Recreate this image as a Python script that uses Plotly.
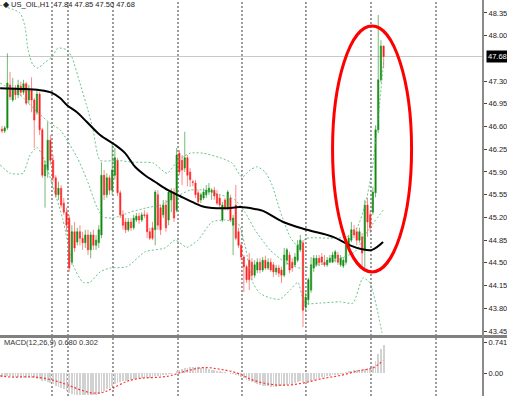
import plotly.graph_objects as go

# ---------------- data ----------------
bar_idx = list(range(143))
opens = [46.56,46.53,46.58,47.24,47.01,47.19,47.09,47.22,47.13,47.26,
         47.01,47.16,47.01,46.82,47.10,46.55,45.84,45.93,46.39,46.08,
         45.81,45.55,45.65,45.42,45.28,45.19,44.51,44.98,44.82,44.98,
         44.88,44.81,44.93,44.70,44.93,44.77,44.81,44.93,45.85,45.55,
         45.81,45.62,45.85,46.08,45.58,45.24,45.13,45.01,45.13,45.04,
         45.16,45.22,45.16,45.24,45.24,44.98,45.04,45.01,45.55,45.35,
         45.24,45.39,45.16,45.47,45.59,45.31,46.19,46.08,45.96,46.12,
         45.90,45.75,45.73,45.58,45.47,45.50,45.55,45.59,45.59,45.62,
         45.56,45.50,45.16,45.47,45.35,45.50,45.08,45.39,44.98,44.77,
         44.59,44.44,44.54,44.51,44.31,44.39,44.51,44.39,44.54,44.42,
         44.51,44.47,44.36,44.42,44.39,44.31,44.54,44.62,44.51,44.47,
         44.54,44.70,44.81,43.82,43.93,44.08,44.42,44.47,44.57,44.59,
         44.51,44.47,44.51,44.51,44.57,44.62,44.47,44.45,44.51,44.70,
         44.85,45.01,44.98,44.85,44.90,44.70,45.39,45.24,45.28,45.58,
         46.55,47.32,47.84]
highs = [46.61,46.61,47.73,47.44,47.35,47.24,47.32,47.29,47.32,47.29,
         47.24,47.36,47.04,47.16,47.13,46.58,46.08,46.67,46.47,46.16,
         45.85,45.75,45.70,45.50,45.35,45.24,45.08,45.13,45.04,45.08,
         44.98,45.01,45.01,44.98,45.01,44.93,45.08,46.05,45.93,45.88,
         45.85,46.35,46.27,46.12,45.62,45.31,45.19,45.19,45.19,45.24,
         45.27,45.27,45.28,45.31,45.28,45.04,45.13,45.62,45.62,45.39,
         45.47,45.47,45.62,45.65,45.65,46.27,46.24,46.16,46.52,46.16,
         45.96,45.78,45.78,45.62,45.58,45.65,45.70,45.73,45.65,45.67,
         45.62,45.55,45.44,45.50,45.62,45.55,45.24,45.70,45.04,44.81,
         44.62,44.47,44.65,44.57,44.54,44.57,44.57,44.59,44.61,44.57,
         44.57,44.51,44.47,44.47,44.44,44.73,44.73,44.67,44.57,44.65,
         44.85,44.93,44.85,44.04,44.27,44.59,44.62,44.62,44.62,44.65,
         44.62,44.59,44.62,44.67,44.70,44.67,44.62,44.59,44.85,44.93,
         45.13,45.08,45.04,45.04,44.96,45.47,45.50,45.31,45.67,46.62,
         48.32,47.93,47.85]
lows = [46.50,46.50,46.55,47.01,46.98,47.01,47.04,47.07,47.09,46.93,
        46.95,46.82,46.27,46.78,46.47,45.81,45.35,45.81,46.01,45.75,
        45.50,45.47,45.35,45.24,44.98,44.36,44.47,44.67,44.77,44.77,
        44.70,44.73,44.62,44.57,44.70,44.70,44.73,44.88,45.47,45.50,
        45.55,45.55,45.78,45.53,45.19,45.01,44.96,44.98,44.99,45.01,
        45.13,45.10,45.13,45.19,44.88,44.85,44.85,44.77,45.01,44.93,
        45.19,44.98,45.08,45.28,45.13,45.28,45.85,45.70,45.90,45.68,
        45.67,45.68,45.50,45.39,45.42,45.47,45.50,45.55,45.47,45.47,
        45.39,45.35,45.13,45.31,45.31,45.13,44.62,44.85,44.73,44.54,
        44.05,44.19,44.08,44.24,44.27,44.34,44.34,44.36,44.39,44.39,
        44.36,44.28,44.31,44.28,44.19,44.28,44.47,44.34,44.36,44.44,
        44.51,44.67,43.51,43.77,43.85,44.04,44.36,44.44,44.45,44.47,
        44.44,44.44,44.50,44.50,44.51,44.47,44.44,44.42,44.47,44.67,
        44.82,44.88,44.77,44.81,44.44,44.42,44.90,44.96,45.24,45.51,
        46.50,47.28,47.50]
closes = [46.53,46.58,47.27,47.06,47.19,47.09,47.24,47.13,47.26,46.96,
          47.16,47.01,46.70,47.10,46.55,45.85,46.01,46.39,46.08,45.81,
          45.55,45.65,45.39,45.28,45.08,44.42,44.98,44.73,44.98,44.88,
          44.81,44.93,44.70,44.93,44.77,44.85,45.01,45.85,45.55,45.81,
          45.62,45.93,46.12,45.58,45.24,45.08,45.01,45.13,45.04,45.19,
          45.22,45.16,45.24,45.23,44.98,44.88,44.88,45.59,45.08,45.01,
          45.39,45.04,45.59,45.59,45.19,46.16,45.90,45.93,46.12,45.85,
          45.78,45.74,45.55,45.44,45.55,45.59,45.62,45.65,45.62,45.53,
          45.42,45.39,45.39,45.35,45.59,45.16,45.19,44.88,44.77,44.59,
          44.44,44.24,44.24,44.31,44.47,44.51,44.39,44.54,44.42,44.51,
          44.39,44.36,44.42,44.34,44.31,44.62,44.70,44.39,44.42,44.59,
          44.77,44.85,43.77,43.97,44.24,44.47,44.57,44.57,44.50,44.51,
          44.47,44.54,44.57,44.62,44.67,44.51,44.57,44.54,44.77,44.88,
          45.01,44.93,44.85,44.98,44.65,45.39,45.13,45.04,45.59,46.55,
          47.32,47.84,47.68]

# moving average (black line), sampled
ma_x = [-0.7,6.7,14.1,18.6,21.6,24.2,27.9,31.6,36.5,42.0,45.8,49.5,53.2,56.9,
        61.8,66.2,70.7,75.5,83.0,88.6,94.1,97.1,104.6,113.5,123.2,129.5,134.0,137.7,141.8]
ma_y = [47.19,47.18,47.16,47.12,47.04,46.93,46.82,46.67,46.47,46.32,46.19,45.98,45.85,45.75,
        45.62,45.53,45.44,45.36,45.34,45.36,45.33,45.30,45.13,45.01,44.90,44.77,44.71,44.70,44.82]

# Bollinger bands (dotted green), sampled
bb_up_x = [-0.7,6.7,8.6,9.7,11.5,13.4,16.0,18.6,20.8,24.2,26.0,29.0,32.0,33.9,36.5,42.8,48.7,
           56.2,61.4,65.5,70.0,74.8,81.1,85.6,89.3,92.3,94.9,97.9,100.5,103.4,107.2,109.8,
           113.5,122.0,128.4,132.1,135.1,137.7,139.9,142.1]
bb_up_y = [48.47,48.35,48.13,47.78,47.55,47.50,47.59,47.67,47.81,47.78,47.67,47.27,46.85,46.55,
           46.08,46.08,46.05,46.04,45.88,46.08,46.19,46.19,46.12,46.04,45.82,45.93,45.98,45.90,
           45.70,45.31,44.90,44.77,44.88,44.88,44.90,45.04,45.39,45.93,46.70,47.63]
bb_mid_x = [-0.7,6.7,11.5,17.9,21.6,27.9,31.6,35.3,37.6,41.3,47.6,54.0,58.8,64.4,70.0,75.5,
            81.1,86.7,90.4,94.1,99.7,105.3,110.9,118.3,125.8,131.3,135.8,141.8]
bb_mid_y = [47.27,47.09,46.89,46.65,46.55,46.13,45.78,45.36,45.21,45.19,45.28,45.35,45.39,45.51,
            45.62,45.62,45.55,45.47,45.28,45.01,44.70,44.51,44.42,44.47,44.57,44.67,44.98,45.31]
bb_lo_x = [-0.7,3.0,7.8,10.4,13.0,15.3,19.0,22.7,26.4,30.1,32.7,36.5,40.2,46.5,53.2,60.7,64.4,
           68.8,72.9,78.1,83.0,87.8,90.4,93.4,96.0,99.7,103.4,107.2,110.1,112.7,118.3,125.8,
           130.6,134.3,136.9,141.4]
bb_lo_y = [46.01,45.88,45.88,46.16,46.28,46.13,45.67,45.16,44.47,44.20,44.20,44.36,44.42,44.44,
           44.67,44.73,44.85,44.74,44.85,45.13,45.16,45.11,44.77,44.19,44.03,43.96,43.94,44.08,
           44.20,43.88,43.88,43.90,43.88,44.27,44.19,43.42]

# MACD histogram (one per bar) and signal line
macd_hist = [-0.10,-0.10,-0.08,-0.08,-0.09,-0.09,-0.10,-0.10,-0.11,-0.11,-0.12,-0.12,-0.13,-0.14,-0.15,
             -0.18,-0.20,-0.22,-0.24,-0.27,-0.30,-0.33,-0.36,
             -0.39,-0.42,-0.48,-0.50,-0.52,-0.52,-0.52,-0.52,-0.52,-0.52,-0.52,-0.52,-0.52,-0.50,-0.45,-0.42,-0.38,-0.35,
             -0.30,-0.26,-0.24,-0.22,-0.20,-0.19,-0.17,-0.16,-0.15,-0.14,-0.13,-0.12,-0.11,-0.11,-0.11,-0.10,
             -0.08,-0.07,-0.06,-0.05,-0.04,-0.02,-0.01,0.00,
             0.04,0.07,0.09,0.11,0.13,0.14,0.15,0.15,0.14,0.13,0.12,0.11,0.10,0.08,0.06,0.05,
             0.03,0.02,0.01,0.00,-0.01,-0.02,-0.04,-0.07,-0.10,
             -0.13,-0.16,-0.19,-0.22,-0.25,-0.27,-0.29,-0.30,-0.31,-0.32,-0.33,-0.33,-0.33,-0.32,-0.31,
             -0.30,-0.28,-0.27,-0.26,-0.24,-0.22,-0.20,-0.22,
             -0.24,-0.22,-0.19,-0.16,-0.14,-0.12,-0.10,-0.09,-0.08,-0.06,-0.05,-0.04,-0.03,
             -0.02,-0.01,0.01,0.03,0.05,0.06,0.07,0.08,0.08,0.10,0.11,0.12,
             0.16,0.28,0.45,0.58,0.68]
sig_x = [-0.7,4.1,10.4,15.3,20.5,24.2,29.0,33.9,37.6,41.3,46.5,51.3,61.4,68.1,74.8,81.1,87.4,
         93.4,99.7,106.0,112.0,119.4,125.8,133.2,138.0,141.8]
sig_y = [-0.07,-0.10,-0.09,-0.12,-0.20,-0.28,-0.40,-0.48,-0.46,-0.36,-0.20,-0.13,-0.08,0.04,0.13,
         0.09,0.0,-0.17,-0.27,-0.29,-0.24,-0.13,-0.06,0.06,0.12,0.30]

day_breaks = [18.6, 24.56, 41.3, 65.5, 89.3, 113.1, 137.3, 161.5]
price_ticks = [48.35, 48.00, 47.30, 46.95, 46.60, 46.25, 45.90, 45.55, 45.20,
               44.85, 44.50, 44.15, 43.80, 43.45]
macd_ticks = [0.741, 0.0]
macd_tick_text = ["0.741", "0.00"]
last_price = 47.68
title_text = "◆ US_OIL,H1  47.84 47.85 47.50 47.68"
macd_label = "MACD(12,26,9) 0.680 0.302"
ellipse_box = dict(x0=123.0, x1=152.4, y0=44.36, y1=48.15)

# ---------------- figure ----------------
W, H = 507, 396
FONT = "Liberation Sans"
fig = go.Figure()

dot_green = dict(color="rgba(70,180,110,0.8)", width=1, dash="2px,2px")
for bx, by in [(bb_up_x, bb_up_y), (bb_mid_x, bb_mid_y), (bb_lo_x, bb_lo_y)]:
    fig.add_trace(go.Scatter(x=bx, y=by, mode="lines", line=dict(shape="spline", smoothing=0.6, **dot_green),
                             xaxis="x", yaxis="y", hoverinfo="skip", showlegend=False))

fig.add_trace(go.Candlestick(
    x=bar_idx, open=opens, high=highs, low=lows, close=closes,
    increasing=dict(line=dict(color="rgba(20,140,20,0.6)", width=1), fillcolor="#118a11"),
    decreasing=dict(line=dict(color="rgba(255,40,40,0.55)", width=1), fillcolor="#ff1a1a"),
    whiskerwidth=0, xaxis="x", yaxis="y", hoverinfo="skip", showlegend=False))

fig.add_trace(go.Scatter(x=ma_x, y=ma_y, mode="lines", line=dict(color="black", width=2, shape="spline"),
                         xaxis="x", yaxis="y", hoverinfo="skip", showlegend=False))

fig.add_trace(go.Bar(x=bar_idx, y=macd_hist, width=0.32, marker=dict(color="#d2d2d2", line=dict(width=0)),
                     xaxis="x", yaxis="y2", hoverinfo="skip", showlegend=False))
fig.add_trace(go.Scatter(x=sig_x, y=sig_y, mode="lines",
                         line=dict(color="#ff3030", width=1.2, dash="2px,2px", shape="spline"),
                         xaxis="x", yaxis="y2", hoverinfo="skip", showlegend=False))

shapes = []
for b in day_breaks:
    shapes.append(dict(type="line", xref="x", yref="paper", x0=b, x1=b, y0=0, y1=1,
                       line=dict(color="#3a3a3a", width=1, dash="2px,2px"), layer="below"))
shapes.append(dict(type="line", xref="paper", yref="y", x0=0, x1=1, y0=last_price, y1=last_price,
                   line=dict(color="#c8c8c8", width=1), layer="below"))
shapes.append(dict(type="line", xref="paper", yref="paper", x0=0, x1=W / 483.0,
                   y0=(H - 336.5) / H, y1=(H - 336.5) / H, line=dict(color="#808080", width=3)))
shapes.append(dict(type="line", xref="paper", yref="paper", x0=1, x1=1, y0=0, y1=1,
                   line=dict(color="#8a8a8a", width=2)))
shapes.append(dict(type="circle", xref="x", yref="y", line=dict(color="#ff0000", width=3),
                   **ellipse_box))

annotations = [
    dict(text=title_text, xref="paper", yref="paper", x=0, y=1, xanchor="left", yanchor="top",
         xshift=1, yshift=2, showarrow=False, font=dict(family=FONT, size=7.5, color="#222")),
    dict(text=macd_label, xref="paper", yref="paper", x=0, y=(H - 342) / H, xanchor="left",
         yanchor="middle", xshift=2, showarrow=False, font=dict(family=FONT, size=7.5, color="#333")),
    dict(text=f"{last_price:.2f}", xref="paper", yref="y", x=1, y=last_price, xanchor="left",
         yanchor="middle", xshift=3, showarrow=False, bgcolor="black", borderpad=1,
         font=dict(family=FONT, size=7.5, color="white")),
]

fig.update_layout(
    width=W, height=H, margin=dict(l=0, r=24, t=0, b=0),
    paper_bgcolor="white", plot_bgcolor="white", showlegend=False,
    xaxis=dict(range=[-0.744, 178.98], visible=False, rangeslider=dict(visible=False),
               fixedrange=True),
    yaxis=dict(domain=[(H - 336) / H, 1], range=[43.373, 48.55], side="right",
               tickvals=price_ticks, ticktext=[f"{v:.2f}" for v in price_ticks],
               ticks="outside", ticklen=3, tickcolor="#444", showgrid=False, zeroline=False,
               tickfont=dict(family=FONT, size=7.5, color="#222")),
    yaxis2=dict(domain=[0, (H - 338) / H], range=[-0.55, 0.837], side="right", anchor="x",
                tickvals=macd_ticks, ticktext=macd_tick_text,
                ticks="outside", ticklen=3, tickcolor="#444", showgrid=False, zeroline=False,
                tickfont=dict(family=FONT, size=7.5, color="#222")),
    shapes=shapes, annotations=annotations, bargap=0,
)

fig.write_html("out.html")
